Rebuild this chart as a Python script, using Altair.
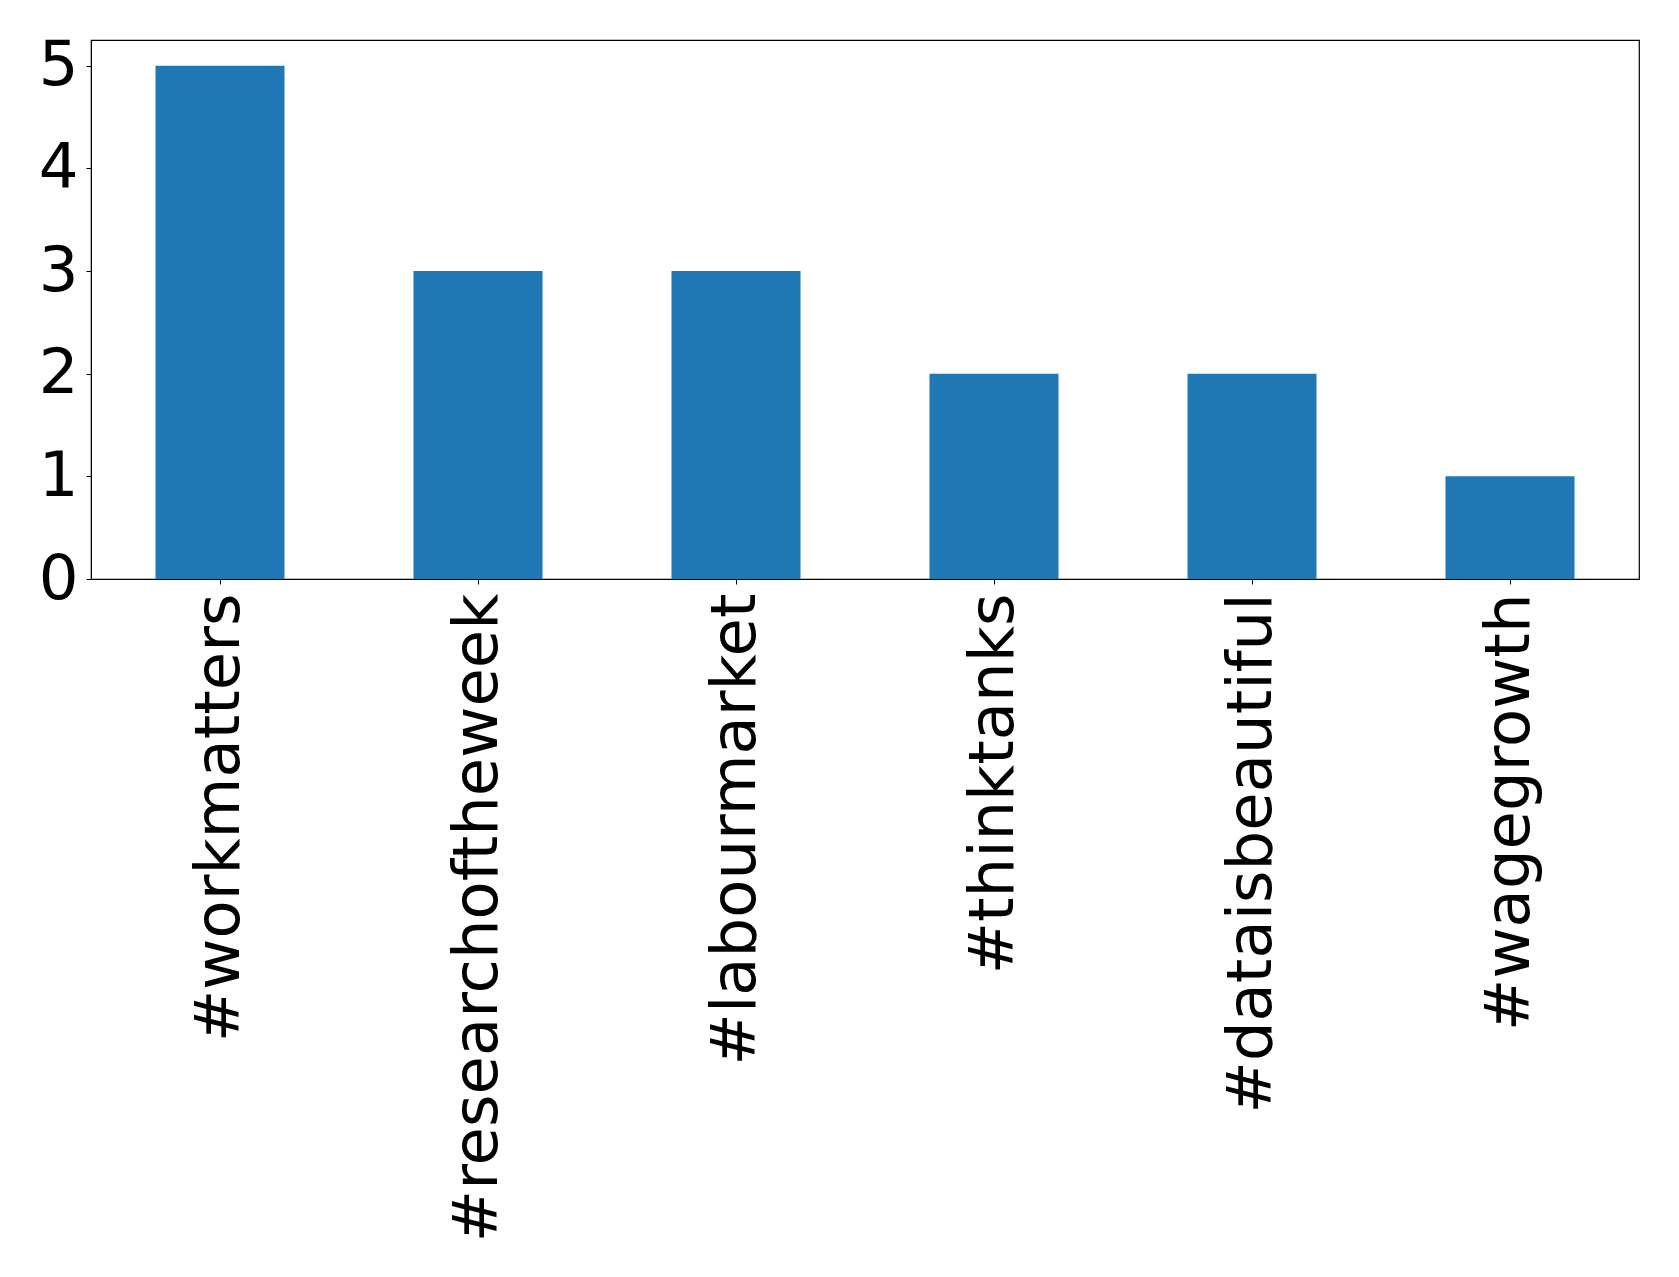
import altair as alt
import pandas as pd

hashtags = ["#workmatters", "#researchoftheweek", "#labourmarket",
            "#thinktanks", "#dataisbeautiful", "#wagegrowth"]
counts = [5, 3, 3, 2, 2, 1]
y_ticks = [0, 1, 2, 3, 4, 5]

df = pd.DataFrame({"tag": hashtags, "count": counts})

chart = alt.Chart(df).mark_bar(color="#1f77b4").encode(
    x=alt.X("tag:N", sort=hashtags,
            scale=alt.Scale(paddingInner=0.5, paddingOuter=0.25),
            axis=alt.Axis(title=None, labelAngle=270, labelFontSize=62.5,
                          labelFont="DejaVu Sans", labelColor="black",
                          tickColor="black", domainColor="black",
                          tickSize=5, labelPadding=9, labelLimit=1000)),
    y=alt.Y("count:Q", scale=alt.Scale(domain=[0, 5.25], nice=False),
            axis=alt.Axis(title=None, values=y_ticks, labelFontSize=62.5,
                          labelFont="DejaVu Sans", labelColor="black",
                          tickColor="black", domainColor="black",
                          tickSize=5, labelPadding=8, grid=False,
                          format="d")),
).properties(
    width=1548, height=539,
    padding={"left": 30, "top": 26, "right": 10, "bottom": 10},
).configure_view(stroke="black", strokeWidth=1.2)

chart.save("out.html", embed_options={"renderer": "svg", "actions": False})
